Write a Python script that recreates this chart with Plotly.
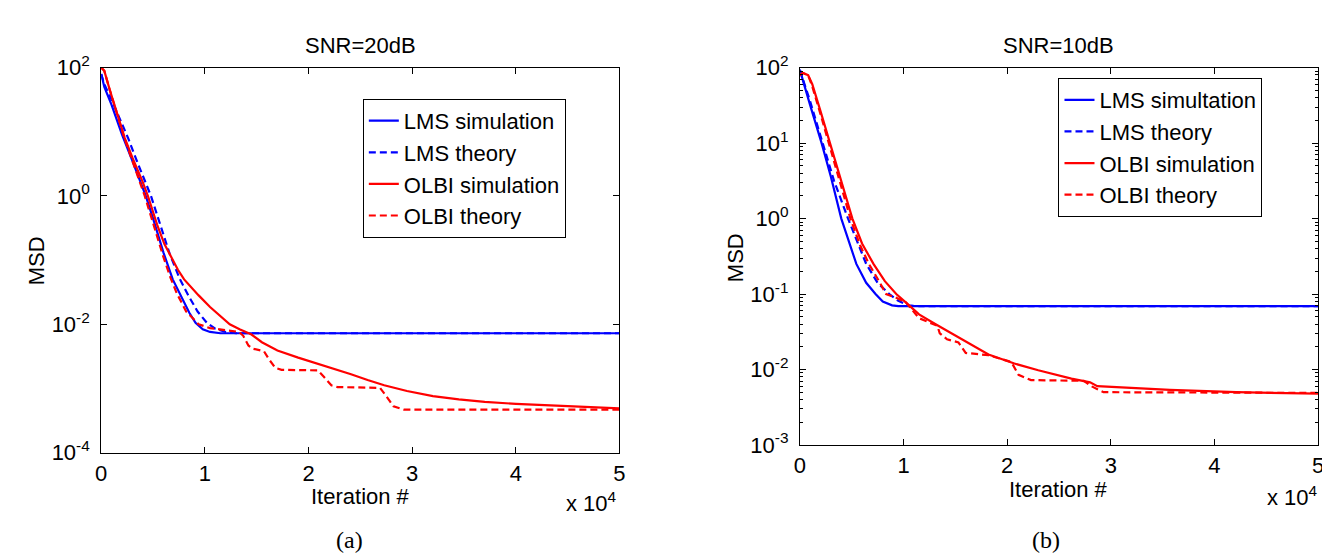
import plotly.graph_objects as go

# ---------------- data ----------------
# Iteration index (raw iterations, axis labelled in units of 10^4)
# SNR = 20 dB (left panel)
lms_sim_20_it = [0, 300, 1000, 2000, 3000, 4000, 4300, 5000, 6000, 6900, 7700, 8500, 9100, 9800, 10500, 11500, 50000]
lms_sim_20_msd = [79.4, 50.1, 26.3, 9.12, 3.55, 1.35, 1.0, 0.447, 0.132, 0.0501, 0.0275, 0.0151, 0.0105, 0.00832, 0.00759, 0.00724, 0.00724]

lms_th_20_it = [0, 300, 1000, 2000, 2600, 3500, 4800, 5700, 6600, 7600, 8400, 9300, 10200, 11000, 12000, 13000, 50000]
lms_th_20_msd = [79.4, 54.95, 31.6, 13.2, 7.94, 3.31, 1.0, 0.355, 0.126, 0.0501, 0.0282, 0.0158, 0.0105, 0.00851, 0.00759, 0.00724, 0.00724]

olbi_sim_20_it = [0, 300, 830, 1500, 2260, 3000, 4000, 4500, 5400, 6100, 6800, 7400, 8000, 8700, 9400, 10500, 11500,
                  12400, 13400, 14500, 15500, 17000, 19000, 21000, 22500, 24100, 25700, 27300, 29500, 32000, 34500,
                  37000, 40000, 43200, 46500, 50000]
olbi_sim_20_msd = [100, 89.1, 44.7, 20.0, 8.13, 3.98, 1.66, 1.0, 0.355, 0.178, 0.105, 0.0708, 0.0501, 0.0372, 0.0282,
                   0.0186, 0.0132, 0.0100, 0.00832, 0.00692, 0.00525, 0.00389, 0.00302, 0.00240, 0.00200, 0.00166,
                   0.00135, 0.00112, 0.000912, 0.000759, 0.000676, 0.000617, 0.000575, 0.000550, 0.000525, 0.000490]

olbi_th_20_it = [0, 300, 830, 1500, 2200, 3000, 4200, 5000, 6000, 6700, 7300, 8200, 9400, 10500, 12000, 13300, 13700,
                 14200, 14600, 15700, 16200, 16800, 17400, 20900, 21500, 22200, 22800, 26900, 27500, 28200, 29200, 50000]
olbi_th_20_msd = [100, 89.1, 44.7, 20.0, 8.32, 3.55, 1.0, 0.380, 0.112, 0.0525, 0.0302, 0.0158, 0.0100, 0.00871,
                  0.00813, 0.00759, 0.00661, 0.00468, 0.00417, 0.00380, 0.00282, 0.00209, 0.00195, 0.00191, 0.00151,
                  0.00112, 0.00105, 0.00102, 0.000759, 0.000525, 0.000468, 0.000468]

# SNR = 10 dB (right panel)
lms_sim_10_it = [0, 500, 1000, 2100, 3000, 4000, 4700, 5450, 6400, 7300, 8000, 8900, 9500, 50000]
lms_sim_10_msd = [93.3, 56.2, 31.6, 10.0, 3.55, 1.0, 0.501, 0.251, 0.141, 0.100, 0.0794, 0.0708, 0.0692, 0.0692]

lms_th_10_it = [0, 500, 1000, 2200, 3300, 4650, 5500, 6400, 7500, 8630, 9500, 10500, 11500, 50000]
lms_th_10_msd = [93.3, 58.9, 35.5, 10.0, 3.16, 1.0, 0.501, 0.251, 0.141, 0.100, 0.0813, 0.0708, 0.0692, 0.0692]

olbi_sim_10_it = [0, 300, 800, 1200, 2000, 2900, 4000, 5070, 6000, 7100, 8200, 9300, 10300, 11500, 13100, 15000,
                  16600, 18200, 20700, 23000, 26200, 28000, 28700, 32500, 35700, 42100, 46000, 50000]
olbi_sim_10_msd = [79.4, 85.1, 79.4, 60.3, 26.3, 10.0, 3.16, 1.0, 0.468, 0.251, 0.148, 0.100, 0.0759, 0.0537, 0.0398,
                   0.0282, 0.0209, 0.0158, 0.0120, 0.00977, 0.00759, 0.00676, 0.00603, 0.00562, 0.00537, 0.00501,
                   0.00490, 0.00479]

olbi_th_10_it = [0, 300, 800, 1200, 2000, 2800, 3900, 4880, 5800, 6660, 7600, 8000, 8320, 9300, 10230, 11500, 13260,
                 13500, 14200, 15300, 16000, 18200, 20400, 21100, 22300, 27400, 28100, 29300, 50000]
olbi_th_10_msd = [79.4, 85.1, 79.4, 56.2, 24.0, 10.0, 3.16, 1.0, 0.447, 0.251, 0.151, 0.120, 0.100, 0.0891, 0.0776,
                  0.0479, 0.0380, 0.0302, 0.0251, 0.0229, 0.0166, 0.0155, 0.0126, 0.00851, 0.00724, 0.00708,
                  0.00603, 0.00501, 0.00490]

legend_left = ["LMS simulation", "LMS theory", "OLBI simulation", "OLBI theory"]
legend_right = ["LMS simultation", "LMS theory", "OLBI simulation", "OLBI theory"]

x_tick_vals = [0, 10000, 20000, 30000, 40000, 50000]
x_tick_text = ["0", "1", "2", "3", "4", "5"]
y_left_vals = [1e-4, 1e-2, 1, 100]
y_left_text = ["10<sup>-4</sup>", "10<sup>-2</sup>", "10<sup>0</sup>", "10<sup>2</sup>"]
y_right_vals = [1e-3, 1e-2, 1e-1, 1, 10, 100]
y_right_text = ["10<sup>-3</sup>", "10<sup>-2</sup>", "10<sup>-1</sup>", "10<sup>0</sup>", "10<sup>1</sup>", "10<sup>2</sup>"]

# ---------------- figure ----------------
W, H = 1330, 560
FONT = "Liberation Sans, Arial, Helvetica, sans-serif"
FS = 22
BLUE = "#0000FF"
RED = "#FF0000"
DASH = "7px,4px"
LW = 2.2

fig = go.Figure()

left_series = [
    (lms_sim_20_it, lms_sim_20_msd, BLUE, "solid"),
    (lms_th_20_it, lms_th_20_msd, BLUE, DASH),
    (olbi_sim_20_it, olbi_sim_20_msd, RED, "solid"),
    (olbi_th_20_it, olbi_th_20_msd, RED, DASH),
]
right_series = [
    (lms_sim_10_it, lms_sim_10_msd, BLUE, "solid"),
    (lms_th_10_it, lms_th_10_msd, BLUE, DASH),
    (olbi_sim_10_it, olbi_sim_10_msd, RED, "solid"),
    (olbi_th_10_it, olbi_th_10_msd, RED, DASH),
]

for (xs, ys, c, d), name in zip(left_series, legend_left):
    fig.add_trace(go.Scatter(x=xs, y=ys, mode="lines", name=name,
                             line=dict(color=c, width=LW, dash=d),
                             xaxis="x", yaxis="y", legend="legend"))
for (xs, ys, c, d), name in zip(right_series, legend_right):
    fig.add_trace(go.Scatter(x=xs, y=ys, mode="lines", name=name,
                             line=dict(color=c, width=LW, dash=d),
                             xaxis="x2", yaxis="y2", legend="legend2"))

def px(x):
    return x / W

def py(y):
    return 1 - y / H

common_x = dict(range=[0, 50000], tickmode="array", tickvals=x_tick_vals, ticktext=x_tick_text,
                ticks="inside", ticklen=6, tickcolor="black", showline=True, linecolor="black",
                linewidth=1, mirror="ticks", showgrid=False, zeroline=False, ticklabelstandoff=1,
                tickfont=dict(family=FONT, size=FS, color="black"))
common_y = dict(type="log", ticks="inside", ticklen=6, tickcolor="black", showline=True,
                linecolor="black", linewidth=1, mirror="ticks", showgrid=False, zeroline=False,
                tickmode="array", ticklabelstandoff=6,
                tickfont=dict(family=FONT, size=FS, color="black"))

minor_vals = []
for e in range(-3, 2):
    for m in range(2, 10):
        minor_vals.append(m * 10 ** e)

fig.update_layout(
    width=W, height=H,
    margin=dict(l=0, r=0, t=0, b=0),
    paper_bgcolor="white", plot_bgcolor="white",
    xaxis=dict(domain=[px(88), px(611)], anchor="y", **common_x),
    yaxis=dict(domain=[py(452), py(46)], anchor="x", range=[-4, 2],
               tickvals=y_left_vals, ticktext=y_left_text, **common_y),
    xaxis2=dict(domain=[px(793), px(1316)], anchor="y2", **common_x),
    yaxis2=dict(domain=[py(444), py(46)], anchor="x2", range=[-3, 2],
                tickvals=y_right_vals, ticktext=y_right_text,
                minor=dict(ticks="inside", ticklen=3, tickcolor="black", tickmode="array",
                           tickvals=minor_vals, showgrid=False),
                **common_y),
    legend=dict(x=px(352), y=py(79), xanchor="left", yanchor="top",
                bordercolor="black", borderwidth=1, bgcolor="white",
                font=dict(family=FONT, size=FS, color="black"), tracegroupgap=0),
    legend2=dict(x=px(1054), y=py(57), xanchor="left", yanchor="top",
                 bordercolor="black", borderwidth=1, bgcolor="white",
                 font=dict(family=FONT, size=FS, color="black"), tracegroupgap=0),
    showlegend=True,
)

ann_font = dict(family=FONT, size=FS, color="black")
annotations = [
    dict(text="SNR=20dB", x=px(349.5), y=py(22.5)),
    dict(text="SNR=10dB", x=px(1054.5), y=py(22.5)),
    dict(text="Iteration #", x=px(349.5), y=py(498)),
    dict(text="Iteration #", x=px(1054.5), y=py(491)),
    dict(text="MSD", x=px(22.5), y=py(250), textangle=-90),
    dict(text="MSD", x=px(727.5), y=py(246), textangle=-90),
]
for a in annotations:
    fig.add_annotation(xref="paper", yref="paper", showarrow=False, xanchor="center",
                       yanchor="middle", font=ann_font, **a)
fig.add_annotation(text="x 10<sup>4</sup>", xref="paper", yref="paper", x=px(611), y=py(504),
                   xanchor="right", yanchor="middle", showarrow=False, font=ann_font)
fig.add_annotation(text="x 10<sup>4</sup>", xref="paper", yref="paper", x=px(1318), y=py(498),
                   xanchor="right", yanchor="middle", showarrow=False, font=ann_font)
serif = dict(family="Liberation Serif, Times New Roman, serif", size=24, color="black")
fig.add_annotation(text="(a)", xref="paper", yref="paper", x=px(339), y=py(544),
                   xanchor="center", yanchor="middle", showarrow=False, font=serif)
fig.add_annotation(text="(b)", xref="paper", yref="paper", x=px(1041), y=py(544),
                   xanchor="center", yanchor="middle", showarrow=False, font=serif)

fig.write_html("out.html")
